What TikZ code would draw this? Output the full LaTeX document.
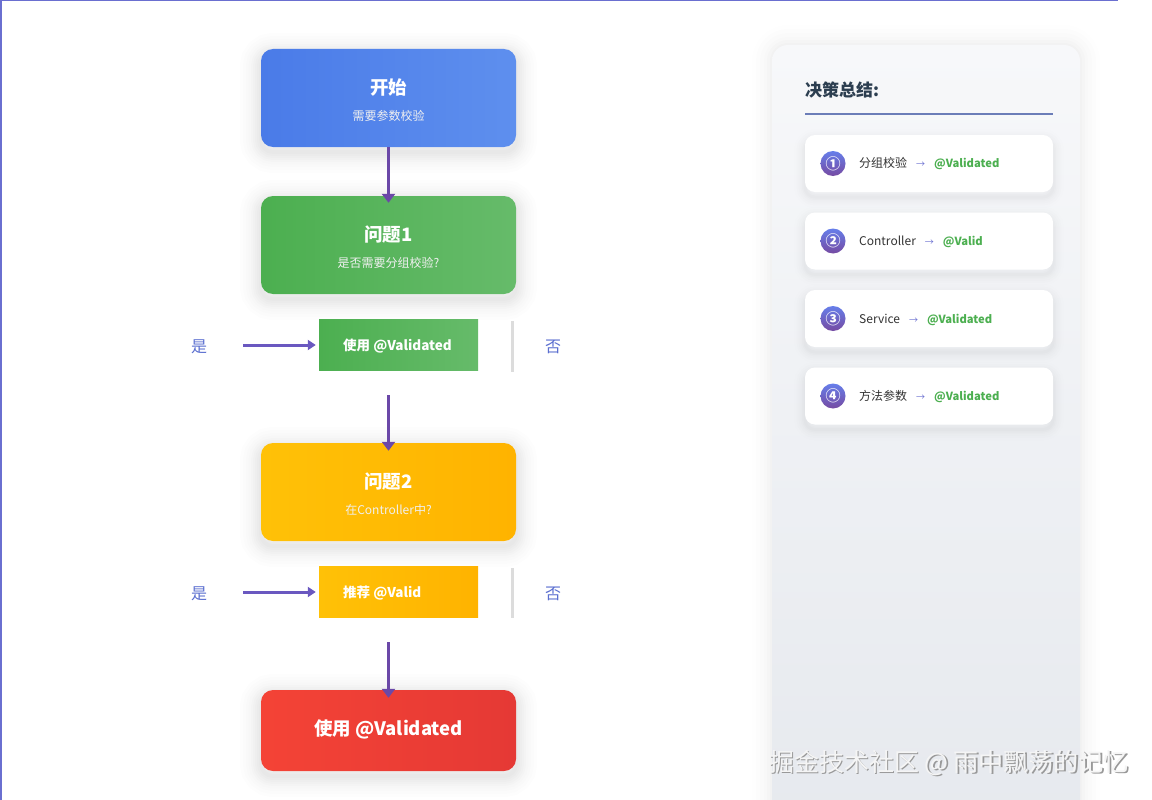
\documentclass[tikz,border=0pt]{standalone}
\usepackage{fontspec}
\setmainfont{Noto Sans CJK SC}
\usetikzlibrary{arrows.meta}
\definecolor{blueA}{HTML}{4A7BE8}
\definecolor{blueB}{HTML}{5E8FEE}
\definecolor{greenA}{HTML}{4CAF50}
\definecolor{greenB}{HTML}{66BB6A}
\definecolor{yellowA}{HTML}{FFC107}
\definecolor{yellowB}{HTML}{FFB300}
\definecolor{redA}{HTML}{F44336}
\definecolor{redB}{HTML}{E53935}
\definecolor{arrowc}{HTML}{6B48A8}
\definecolor{harrowc}{HTML}{6A58C0}
\definecolor{yesno}{HTML}{5B6FD0}
\definecolor{sepc}{HTML}{DCDCDC}
\definecolor{panelA}{HTML}{F7F8FA}
\definecolor{panelB}{HTML}{E6E9EE}
\definecolor{darktext}{HTML}{2C3E50}
\definecolor{ruleline}{HTML}{6B7DB8}
\definecolor{cardtext}{HTML}{333333}
\definecolor{circA}{HTML}{667EEA}
\definecolor{circB}{HTML}{764BA2}
\definecolor{frame}{HTML}{6A6FD0}
\tikzset{
  sh/.style 2 args={preaction={draw=black, line width=#1, draw opacity=#2,
     transform canvas={yshift=-5pt}}},
  softshadow/.style={sh={4pt}{0.012}, sh={8pt}{0.012}, sh={12pt}{0.012}, sh={16pt}{0.011}, sh={20pt}{0.01},
     sh={25pt}{0.009}, sh={30pt}{0.008}, sh={36pt}{0.007}, sh={42pt}{0.006}},
  lightshadow/.style={sh={3pt}{0.01}, sh={6pt}{0.01}, sh={9pt}{0.009}, sh={13pt}{0.008}, sh={17pt}{0.007}, sh={22pt}{0.005}},
  shp/.style 2 args={preaction={draw=black, line width=#1, draw opacity=#2}},
  panelshadow/.style={shp={4pt}{0.01}, shp={10pt}{0.01}, shp={16pt}{0.009}, shp={24pt}{0.008}, shp={32pt}{0.007}, shp={40pt}{0.005}},
  bigbox/.style={rounded corners=12pt, minimum width=255pt, minimum height=98pt, inner sep=0pt, softshadow},
  rowbox/.style={minimum width=159pt, minimum height=51pt, inner sep=0pt},
  title/.style={text=white, font=\bfseries\fontsize{18.5}{20}\selectfont, inner sep=0pt},
  subtitle/.style={text=white!94!black, font=\fontsize{12}{14}\selectfont, inner sep=0pt},
  rowtext/.style={text=white, font=\bfseries\fontsize{13.5}{15}\selectfont, inner sep=0pt, anchor=west},
  yn/.style={text=yesno, font=\fontsize{16}{18}\selectfont, inner sep=0pt},
  flow/.style={-{Triangle[length=9pt,width=13pt]}, line width=3pt, draw=arrowc},
  harrow/.style={-{Triangle[length=8pt,width=10pt]}, line width=3pt, draw=harrowc},
  sepline/.style={draw=sepc, line width=3pt},
  panel/.style={rounded corners=16pt, minimum width=308pt, minimum height=780pt, inner sep=0pt,
    top color=panelA, bottom color=panelB, panelshadow},
  card/.style={rounded corners=10pt, fill=white, minimum width=248pt, minimum height=57pt, inner sep=0pt, lightshadow},
  numcirc/.style={circle, minimum size=25pt, inner sep=0pt, top color=circA, bottom color=circB},
  numtext/.style={inner sep=0pt, text=white, font=\bfseries\fontsize{15}{16}\selectfont},
  cardlabel/.style={anchor=west, inner sep=0pt, text=cardtext, font=\fontsize{12}{13}\selectfont},
}
\newcommand{\cardarrow}{\hspace{9pt}{\color{frame}\fontsize{9}{10}\selectfont →}\hspace{9pt}}
\newcommand{\annot}[1]{{\color{greenA}\bfseries\fontsize{11.2}{13}\selectfont #1}}
\begin{document}
\begin{tikzpicture}[x=1pt,y=-1pt]
\useasboundingbox (0,0) rectangle (1152,800);
\fill[white] (0,0) rectangle (1152,800);
% frame lines
\draw[frame, line width=1.5pt] (0,0.75) -- (1118,0.75);
\draw[frame, line width=1.5pt] (0.75,0) -- (0.75,800);

% right panel
\node[panel] (panel) at (926,435) {};
\node[anchor=west, inner sep=0pt, text=darktext, font=\bfseries\fontsize{17}{19}\selectfont] (ptitle) at (805,90) {决策总结:};
\draw[ruleline, line width=2pt] (805,114) -- (1053,114);

\node[card] (c1) at (929,163.5) {};
\node[card] (c2) at (929,241) {};
\node[card] (c3) at (929,318.5) {};
\node[card] (c4) at (929,396) {};
\node[numcirc] (n1) at (833,163.5) {};
\node[numcirc] (n2) at (833,241) {};
\node[numcirc] (n3) at (833,318.5) {};
\node[numcirc] (n4) at (833,396) {};
\node[numtext] (n1t) at (n1) {①};
\node[numtext] (n2t) at (n2) {②};
\node[numtext] (n3t) at (n3) {③};
\node[numtext] (n4t) at (n4) {④};
\node[cardlabel] (l1) at (859,164) {分组校验\cardarrow\annot{@Validated}};
\node[cardlabel] (l2) at (859,242) {Controller\cardarrow\annot{@Valid}};
\node[cardlabel] (l3) at (859,319.5) {Service\cardarrow\annot{@Validated}};
\node[cardlabel] (l4) at (859,397) {方法参数\cardarrow\annot{@Validated}};

% main flow boxes
\node[bigbox, left color=blueA, right color=blueB] (start) at (388.5,98) {};
\node[title] (startT) at (388.5,88) {开始};
\node[subtitle] (startS) at (388.5,116) {需要参数校验};

\node[bigbox, left color=greenA, right color=greenB] (q1) at (388.5,245) {};
\node[title] (q1T) at (388.5,235) {问题1};
\node[subtitle] (q1S) at (388.5,263) {是否需要分组校验?};

\node[bigbox, left color=yellowA, right color=yellowB] (q2) at (388.5,492) {};
\node[title] (q2T) at (388.5,482) {问题2};
\node[subtitle] (q2S) at (388.5,510) {在Controller中?};

\node[bigbox, minimum height=81pt, left color=redA, right color=redB] (endb) at (388.5,730.5) {};
\node[title] (endT) at (388.5,729) {使用 @Validated};

% row 1
\node[rowbox, left color=greenA, right color=greenB] (r1) at (398.5,344.5) {};
\node[rowtext] (r1T) at (343,346) {使用 @Validated};
\node[yn] (yes1) at (199,347) {是};
\node[yn] (no1) at (553,347) {否};
\draw[sepline] (512,321) -- (512,372);
\coordinate (h1) at (243,345);
\draw[harrow] (h1) -- ([xshift=-3pt]r1.west |- h1);

% row 2
\node[rowbox, left color=yellowA, right color=yellowB] (r2) at (398.5,591.5) {};
\node[rowtext] (r2T) at (343,593) {推荐 @Valid};
\node[yn] (yes2) at (199,594) {是};
\node[yn] (no2) at (553,594) {否};
\draw[sepline] (512,568) -- (512,618);
\coordinate (h2) at (243,592);
\draw[harrow] (h2) -- ([xshift=-3pt]r2.west |- h2);

% vertical arrows
\coordinate (a2) at (388.5,395);
\coordinate (a3) at (388.5,642);
\draw[flow] (start.south) -- ([yshift=-7pt]q1.north);
\draw[flow] (a2) -- ([yshift=-8pt]q2.north);
\draw[flow] (a3) -- ([yshift=-8pt]endb.north);

% watermark
\node[inner sep=0pt, text=gray!80, font=\fontsize{25}{27}\selectfont] (wms) at (950.5,764.5) {掘金技术社区 @ 雨中飘荡的记忆};
\node[inner sep=0pt, text=gray!8, font=\fontsize{25}{27}\selectfont] (wm) at (949,763) {掘金技术社区 @ 雨中飘荡的记忆};
\end{tikzpicture}
\end{document}
